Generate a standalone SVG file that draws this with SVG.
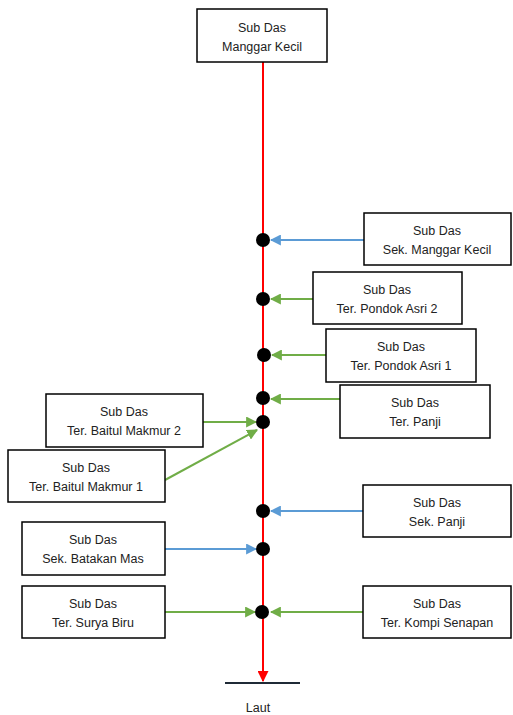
<svg xmlns="http://www.w3.org/2000/svg" width="513" height="715" viewBox="0 0 513 715">
<style>
.box{fill:#fff;stroke:#000;stroke-width:1.5}
.t{font-family:"Liberation Sans",Arial,sans-serif;font-size:12.5px;fill:#222;text-anchor:middle}
.blue{stroke:#5B9BD5;stroke-width:2;fill:none}
.green{stroke:#70AD47;stroke-width:2;fill:none}
.red{stroke:#FF0000;stroke-width:2;fill:none}
.dot{fill:#000}
</style>
<defs>
<marker id="ab" viewBox="0 0 10 10" refX="9" refY="5" markerWidth="5.5" markerHeight="5.5" orient="auto" markerUnits="strokeWidth"><path d="M0,0 L10,5 L0,10 z" fill="#5B9BD5"/></marker>
<marker id="ag" viewBox="0 0 10 10" refX="9" refY="5" markerWidth="5.5" markerHeight="5.5" orient="auto" markerUnits="strokeWidth"><path d="M0,0 L10,5 L0,10 z" fill="#70AD47"/></marker>
<marker id="ar" viewBox="0 0 10 10" refX="9" refY="5" markerWidth="5.5" markerHeight="5.5" orient="auto" markerUnits="strokeWidth"><path d="M0,0 L10,5 L0,10 z" fill="#FF0000"/></marker>
</defs>
<rect width="513" height="715" fill="#fff"/>
<g id="connectors">
<line class="red" x1="263" y1="62" x2="263" y2="681" marker-end="url(#ar)"/>
<line x1="225" y1="683" x2="300" y2="683" stroke="#1f2a36" stroke-width="2"/>
<line class="blue" x1="364" y1="240" x2="271" y2="240" marker-end="url(#ab)"/>
<line class="green" x1="313" y1="299" x2="271" y2="299" marker-end="url(#ag)"/>
<line class="green" x1="326" y1="355" x2="272" y2="355" marker-end="url(#ag)"/>
<line class="green" x1="340" y1="399" x2="271" y2="399" marker-end="url(#ag)"/>
<line class="green" x1="203" y1="422" x2="256" y2="422" marker-end="url(#ag)"/>
<line class="green" x1="165" y1="480" x2="257" y2="430" marker-end="url(#ag)"/>
<line class="blue" x1="363" y1="511" x2="271" y2="511" marker-end="url(#ab)"/>
<line class="blue" x1="165" y1="549" x2="256" y2="549" marker-end="url(#ab)"/>
<line class="green" x1="165" y1="612" x2="255" y2="612" marker-end="url(#ag)"/>
<line class="green" x1="363" y1="612" x2="271" y2="612" marker-end="url(#ag)"/>
</g>
<g id="dots">
<circle class="dot" cx="263" cy="240" r="7"/>
<circle class="dot" cx="263" cy="299" r="7"/>
<circle class="dot" cx="264" cy="355" r="7"/>
<circle class="dot" cx="263" cy="398" r="7"/>
<circle class="dot" cx="263" cy="422" r="7"/>
<circle class="dot" cx="263" cy="511" r="7"/>
<circle class="dot" cx="263" cy="549" r="7"/>
<circle class="dot" cx="262" cy="612" r="7"/>
</g>
<g id="n-manggar-kecil"><rect class="box" x="197" y="9" width="130" height="53"/><text class="t" x="262" y="32">Sub Das</text><text class="t" x="262" y="51">Manggar Kecil</text></g>
<g id="n-sek-manggar-kecil"><rect class="box" x="364" y="213" width="147" height="52"/><text class="t" x="437" y="235">Sub Das</text><text class="t" x="437" y="254">Sek. Manggar Kecil</text></g>
<g id="n-pondok-asri-2"><rect class="box" x="313" y="272" width="149" height="52"/><text class="t" x="387" y="294">Sub Das</text><text class="t" x="387" y="313">Ter. Pondok Asri 2</text></g>
<g id="n-pondok-asri-1"><rect class="box" x="326" y="329" width="150" height="53"/><text class="t" x="401" y="351">Sub Das</text><text class="t" x="401" y="370">Ter. Pondok Asri 1</text></g>
<g id="n-panji"><rect class="box" x="340" y="385" width="150" height="53"/><text class="t" x="415" y="407">Sub Das</text><text class="t" x="415" y="426">Ter. Panji</text></g>
<g id="n-baitul-makmur-2"><rect class="box" x="46" y="394" width="157" height="53"/><text class="t" x="124" y="416">Sub Das</text><text class="t" x="124" y="435">Ter. Baitul Makmur 2</text></g>
<g id="n-baitul-makmur-1"><rect class="box" x="8" y="450" width="157" height="52"/><text class="t" x="86" y="472">Sub Das</text><text class="t" x="86" y="491">Ter. Baitul Makmur 1</text></g>
<g id="n-sek-panji"><rect class="box" x="363" y="485" width="148" height="52"/><text class="t" x="437" y="507">Sub Das</text><text class="t" x="437" y="526">Sek. Panji</text></g>
<g id="n-batakan-mas"><rect class="box" x="22" y="522" width="143" height="53"/><text class="t" x="93" y="544">Sub Das</text><text class="t" x="93" y="563">Sek. Batakan Mas</text></g>
<g id="n-surya-biru"><rect class="box" x="22" y="586" width="143" height="52"/><text class="t" x="93" y="608">Sub Das</text><text class="t" x="93" y="627">Ter. Surya Biru</text></g>
<g id="n-kompi-senapan"><rect class="box" x="363" y="586" width="148" height="52"/><text class="t" x="437" y="608">Sub Das</text><text class="t" x="437" y="627">Ter. Kompi Senapan</text></g>
<g id="n-laut"><text class="t" x="258" y="712">Laut</text></g>
</svg>
